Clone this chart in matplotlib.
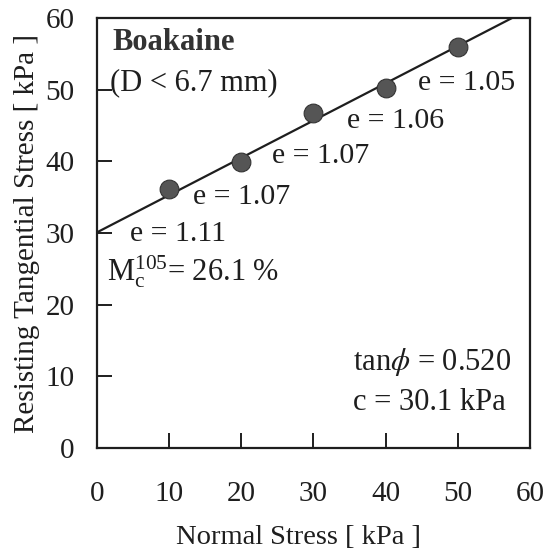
import matplotlib
matplotlib.use("Agg")
import matplotlib.pyplot as plt

# shear test data (Boakaine, D < 6.7 mm)
normal_stress = [10, 20, 30, 40, 50]
tangential_stress = [36.2, 39.9, 46.7, 50.3, 56.0]
void_ratio_labels = ["e = 1.11", "e = 1.07", "e = 1.07", "e = 1.06", "e = 1.05"]
tan_phi = 0.520
cohesion = 30.1
fit_x = [0, 60]

plt.rcParams["font.family"] = ["Liberation Serif", "DejaVu Serif"]
plt.rcParams["mathtext.fontset"] = "stix"

ink = "#1e1e1e"
fig = plt.figure(figsize=(5.56, 5.49), dpi=100)
ax = fig.add_axes([0.1745, 0.184, 0.7785, 0.783])

# fitted Coulomb line
fit_y = [cohesion + tan_phi * x for x in fit_x]
ax.plot(fit_x, fit_y, color=ink, lw=1.6, zorder=2)
ax.plot(normal_stress, tangential_stress, "o", ms=13.5, color="#555555",
        mec="#333333", mew=0.8, zorder=3)

# void ratio labels (positions picked by hand)
label_pos = [(4.6, 29.9), (13.3, 35.0), (24.2, 40.8), (34.6, 45.7), (44.5, 50.9)]
for (lx, ly), txt in zip(label_pos, void_ratio_labels):
    ax.text(lx, ly, txt, fontsize=21.5, color=ink, va="center", ha="left")

ax.text(2.2, 56.6, "Boakaine", fontsize=22, fontweight="bold", color="#333333",
        va="center", ha="left")
ax.text(1.8, 51.0, "(D < 6.7 mm)", fontsize=22, color=ink, va="center", ha="left")
ax.text(1.4, 24.6, r"M$\mathregular{_c^{105}}$= 26.1 %", fontsize=22,
        color=ink, va="center", ha="left")
ax.text(35.5, 12.0, r"tan$\phi$ = %.3f" % tan_phi, fontsize=22, color=ink,
        va="center", ha="left")
ax.text(35.5, 6.4, "c = %.1f kPa" % cohesion, fontsize=22, color=ink,
        va="center", ha="left")

ax.set_xlim(0, 60)
ax.set_ylim(0, 60)
ax.set_xticks(range(0, 61, 10))
ax.set_yticks(range(0, 61, 10))
ax.tick_params(axis="x", direction="in", length=11, width=1.4, pad=24,
               labelsize=21, colors=ink)
ax.tick_params(axis="y", direction="in", length=11, width=1.4, pad=16,
               labelsize=21, colors=ink)
for s in ax.spines.values():
    s.set_linewidth(1.6)
    s.set_color(ink)

ax.set_xlabel("Normal Stress [ kPa ]", fontsize=20.5, color=ink)
ax.xaxis.set_label_coords(0.465, -0.178)
ax.set_ylabel("Resisting Tangential Stress [ kPa ]", fontsize=21, color=ink,
              labelpad=4)

fig.savefig("out.png", dpi=100, facecolor="white")
